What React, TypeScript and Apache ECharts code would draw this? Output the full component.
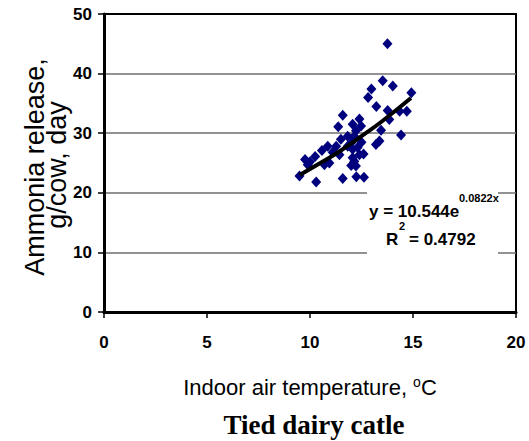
import React, { useEffect, useRef } from "react";
import * as echarts from "echarts";

const tempX = [13.76, 13.53, 14.02, 12.98, 12.82, 14.92, 13.22, 13.77, 14.35, 14.7, 13.85, 12.4, 11.59, 11.37, 12.48, 12.07, 13.45, 14.42, 13.37, 13.2, 12.23, 11.83, 12.0, 11.83, 10.86, 10.58, 10.25, 9.76, 10.94, 9.49, 10.3, 11.59, 12.25, 12.62, 12.0, 12.15, 12.4, 12.6, 12.31, 11.27, 11.5, 12.15, 9.89, 10.7, 11.43, 12.07, 12.07, 12.23, 11.1, 12.5, 10.0];
const ammonia = [45.0, 38.8, 37.9, 37.4, 36.0, 36.8, 34.5, 33.8, 33.7, 33.7, 32.3, 32.4, 33.0, 31.1, 31.2, 31.5, 30.5, 29.7, 28.7, 28.1, 30.4, 29.5, 28.4, 27.8, 27.8, 27.1, 26.1, 25.6, 25.0, 22.8, 21.8, 22.4, 22.7, 22.6, 24.6, 25.3, 26.4, 26.5, 27.6, 27.8, 29.0, 29.5, 24.7, 24.7, 26.4, 27.3, 25.9, 24.5, 26.8, 28.5, 25.2];
const trendX = [9.5, 10.5, 11.5, 12.5, 13.5, 14.9];
const trendY = [23.0, 25.0, 27.1, 29.5, 32.0, 35.9];
const xTicks = [0, 5, 10, 15, 20];
const yTicks = [0, 10, 20, 30, 40, 50];

const sans = "'Liberation Sans', Arial, sans-serif";
const serif = "'Liberation Serif', 'Times New Roman', serif";

export default function App() {
  const ref = useRef<HTMLDivElement>(null);
  useEffect(() => {
    if (!ref.current) return;
    const chart = echarts.init(ref.current, null, { renderer: "svg" });
    const gridGray = "#6e6e6e";
    chart.setOption({
      animation: false,
      backgroundColor: "#fff",
      grid: { left: 104, right: 13, top: 14, bottom: 129, show: true, borderColor: "#000", borderWidth: 2, backgroundColor: "transparent" },
      xAxis: {
        type: "value",
        min: xTicks[0],
        max: xTicks[xTicks.length - 1],
        interval: 5,
        axisLine: { show: true, onZero: false, lineStyle: { color: "#000", width: 3 } },
        axisTick: { show: true, length: 6, lineStyle: { color: "#000", width: 1.5 } },
        axisLabel: { margin: 22, color: "#000", fontFamily: sans, fontWeight: "bold", fontSize: 17 },
        splitLine: { show: false },
      },
      yAxis: {
        type: "value",
        min: yTicks[0],
        max: yTicks[yTicks.length - 1],
        interval: 10,
        axisLine: { show: true, onZero: false, lineStyle: { color: "#000", width: 3 } },
        axisTick: { show: true, length: 6, lineStyle: { color: "#000", width: 1.5 } },
        axisLabel: { margin: 12, color: "#000", fontFamily: sans, fontWeight: "bold", fontSize: 17 },
        splitLine: {
          show: true,
          lineStyle: { color: ["rgba(0,0,0,0)", gridGray, gridGray, gridGray, gridGray, "rgba(0,0,0,0)"], width: 1.5 },
        },
      },
      series: [
        {
          type: "scatter",
          data: tempX.map((x, i) => [x, ammonia[i]]),
          symbol: "diamond",
          symbolSize: [10, 11],
          itemStyle: { color: "#00007f", opacity: 1 },
          z: 3,
        },
        {
          type: "line",
          data: trendX.map((x, i) => [x, trendY[i]]),
          smooth: true,
          showSymbol: false,
          lineStyle: { color: "#000", width: 4 },
          z: 4,
        },
      ],
      graphic: [
        { type: "rect", shape: { x: 367, y: 186, width: 131, height: 72 }, style: { fill: "#fff" }, z: 10 },
        { type: "text", x: 369, y: 211, z: 11, style: { text: "y = 10.544e", fontFamily: sans, fontWeight: "bold", fontSize: 17, fill: "#000", textAlign: "left", textVerticalAlign: "middle" } },
        { type: "text", x: 459, y: 198, z: 11, style: { text: "0.0822x", fontFamily: sans, fontWeight: "bold", fontSize: 11, fill: "#000", textAlign: "left", textVerticalAlign: "middle" } },
        { type: "text", x: 386, y: 239, z: 11, style: { text: "R", fontFamily: sans, fontWeight: "bold", fontSize: 17, fill: "#000", textAlign: "left", textVerticalAlign: "middle" } },
        { type: "text", x: 399, y: 226, z: 11, style: { text: "2", fontFamily: sans, fontWeight: "bold", fontSize: 11, fill: "#000", textAlign: "left", textVerticalAlign: "middle" } },
        { type: "text", x: 409, y: 239, z: 11, style: { text: "= 0.4792", fontFamily: sans, fontWeight: "bold", fontSize: 17, fill: "#000", textAlign: "left", textVerticalAlign: "middle" } },
        { type: "text", x: 35, y: 167, rotation: Math.PI / 2, style: { text: "Ammonia release,", fontFamily: sans, fontSize: 27, fill: "#000", textAlign: "center", textVerticalAlign: "middle" } },
        { type: "text", x: 57, y: 165, rotation: Math.PI / 2, style: { text: "g/cow, day", fontFamily: sans, fontSize: 27, fill: "#000", textAlign: "center", textVerticalAlign: "middle" } },
        {
          type: "text", x: 310, y: 387,
          style: {
            text: "{a|Indoor air temperature, }{s|o}{a|C}",
            textAlign: "center", textVerticalAlign: "middle",
            rich: {
              a: { fontFamily: sans, fontSize: 22, fill: "#000", lineHeight: 24 },
              s: { fontFamily: sans, fontSize: 14, fill: "#000", verticalAlign: "top", lineHeight: 24 },
            },
          },
        },
        { type: "text", x: 314, y: 425, style: { text: "Tied dairy catle", fontFamily: serif, fontWeight: "bold", fontSize: 27, fill: "#000", textAlign: "center", textVerticalAlign: "middle" } },
      ],
    });
    return () => chart.dispose();
  }, []);
  return <div ref={ref} style={{ position: "absolute", left: 0, top: 0, width: 529, height: 441 }} />;
}
